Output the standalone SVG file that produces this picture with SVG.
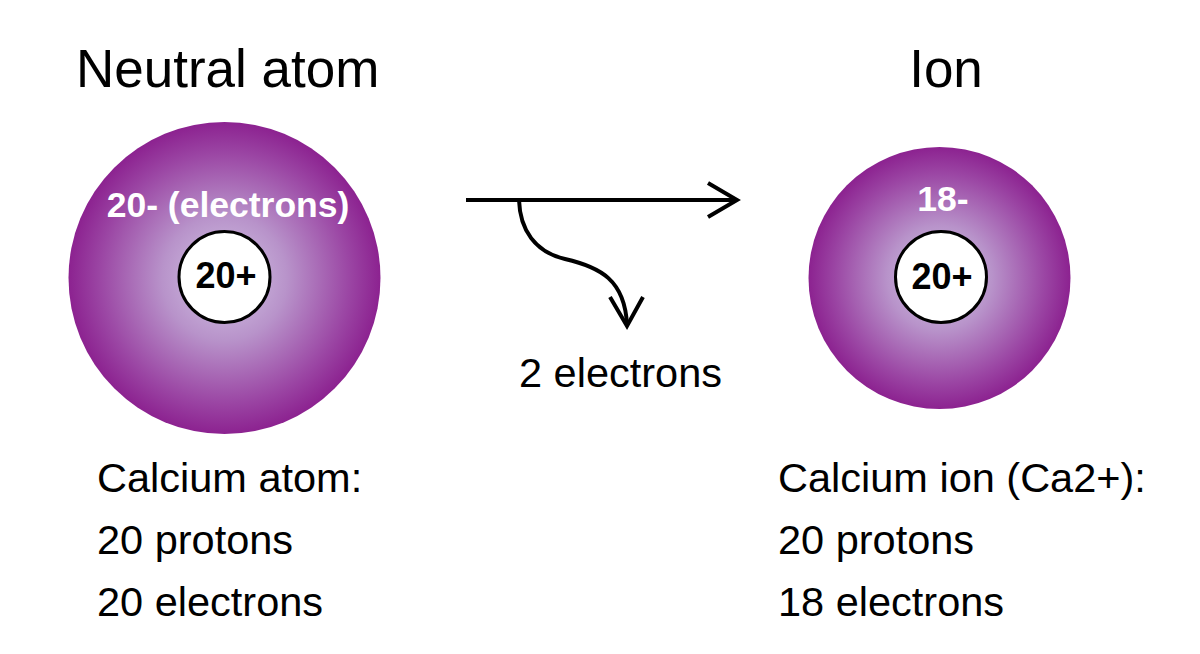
<svg xmlns="http://www.w3.org/2000/svg" width="1200" height="654" viewBox="0 0 1200 654">
<defs>
<radialGradient id="g" cx="0.5" cy="0.5" r="0.5">
<stop offset="0" stop-color="#d3c6e6"/>
<stop offset="0.4" stop-color="#b893ca"/>
<stop offset="0.8" stop-color="#9b46a4"/>
<stop offset="1" stop-color="#8c2290"/>
</radialGradient>
</defs>
<style>
.t{font-family:"Liberation Sans",Arial,sans-serif;fill:#000}
.h{font-size:53px}
.b{font-size:41.5px}
.w{font-family:"Liberation Sans",Arial,sans-serif;font-weight:bold;fill:#fff;font-size:35.5px;text-anchor:middle}
.n{font-family:"Liberation Sans",Arial,sans-serif;font-weight:bold;fill:#000;font-size:36px;text-anchor:middle}
.nuc{fill:#fff;stroke:#000;stroke-width:3}
.ln{fill:none;stroke:#000;stroke-width:4}
</style>
<rect width="1200" height="654" fill="#fff"/>
<text class="t h" x="76" y="87">Neutral atom</text>
<text class="t h" x="946" y="87" text-anchor="middle">Ion</text>
<g id="atom">
<circle cx="224.5" cy="278" r="156" fill="url(#g)"/>
<text class="w" x="228" y="217">20- (electrons)</text>
<circle class="nuc" cx="224.5" cy="277" r="45.5"/>
<text class="n" x="226" y="288">20+</text>
</g>
<g id="ion">
<circle cx="939.5" cy="278" r="131" fill="url(#g)"/>
<text class="w" x="943" y="211">18-</text>
<circle class="nuc" cx="941" cy="277" r="45.5"/>
<text class="n" x="942" y="289">20+</text>
</g>
<g id="connectors">
<path class="ln" d="M466 200 H737"/>
<path class="ln" d="M708 183 L737 200 L708 217"/>
<path class="ln" d="M519 200 C520 230 535 252 565 259 C600 267 625 280 627 325"/>
<path class="ln" d="M610 297 L627 326 L643 297"/>
</g>
<text class="t b" x="519" y="387">2 electrons</text>
<text class="t b" x="97" y="492">Calcium atom:</text>
<text class="t b" x="97" y="554">20 protons</text>
<text class="t b" x="97" y="616">20 electrons</text>
<text class="t b" x="778" y="492">Calcium ion (Ca2+):</text>
<text class="t b" x="778" y="554">20 protons</text>
<text class="t b" x="778" y="616">18 electrons</text>
</svg>
